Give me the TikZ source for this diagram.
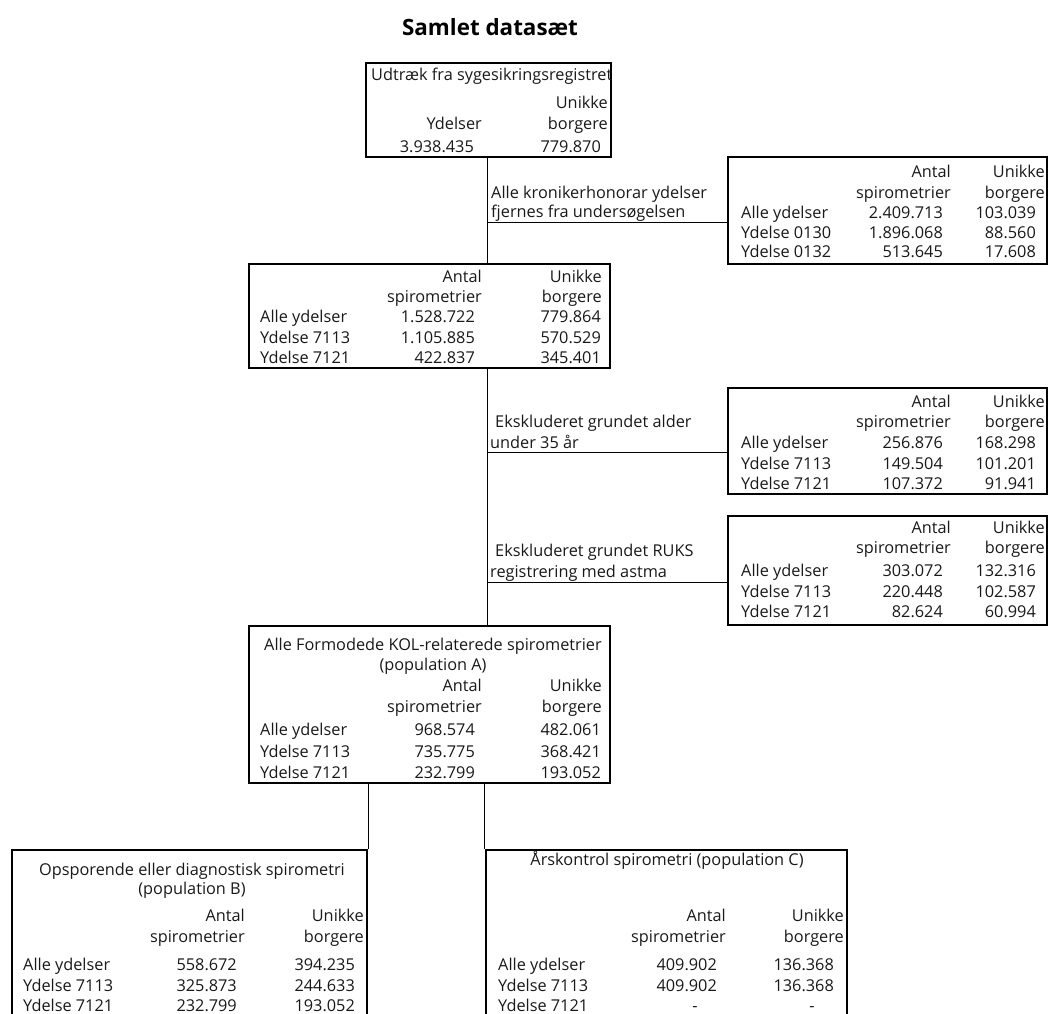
\documentclass[tikz,border=0pt]{standalone}
\usepackage{fontspec}
\setmainfont{Open Sans}
\usetikzlibrary{calc}
\newcommand\fsz{\fontsize{16.3}{19}\selectfont}
\begin{document}
\begin{tikzpicture}[x=1pt,y=-1pt,
  box/.style={draw=black,line width=2.6pt,inner sep=0pt},
  conn/.style={draw=black,line width=1pt},
  lt/.style={anchor=base west,inner sep=0pt,font=\fsz,text=black!90},
  rt/.style={anchor=base east,inner sep=0pt,font=\fsz,text=black!90},
  ct/.style={anchor=base,inner sep=0pt,font=\fsz,text=black!90}]
\useasboundingbox (0,0) rectangle (1049,1014);
\clip (0,0) rectangle (1049,1014);
% title
\node[anchor=base,inner sep=0pt,font=\fontsize{22.4}{26}\selectfont\bfseries] (title) at (490,36) {Samlet datasæt};
% boxes
\newcommand\mkbox[5]{\node[box,minimum width={#4-#2},minimum height={#5-#3}] (#1) at ({(#2+#4)/2},{(#3+#5)/2}) {};}
% junction coordinates
\coordinate (jx) at (487,0);
\coordinate (h1) at (487,222);
\coordinate (h2) at (487,452);
\coordinate (h3) at (487,582);
\mkbox{b1}{366}{63}{611}{157}
\mkbox{r1}{728}{157}{1047}{264}
\mkbox{b2}{249}{264}{610}{368}
\mkbox{r2}{728}{388}{1047}{494}
\mkbox{r3}{728}{516}{1047}{625}
\mkbox{bA}{249}{626}{610}{783}
\mkbox{bB}{12}{850}{367}{1040}
\mkbox{bC}{486}{850}{847}{1040}
% connectors
\draw[conn] (b1.south -| jx) -- (b2.north -| jx);
\draw[conn] (h1) -- (h1 -| r1.west);
\draw[conn] (b2.south -| jx) -- (bA.north -| jx);
\draw[conn] (h2) -- (h2 -| r2.west);
\draw[conn] (h3) -- (h3 -| r3.west);
\draw[conn] (bA.south -| bB.east) -- (bB.north east);
\draw[conn] (bA.south -| bC.west) -- (bC.north west);
% connector labels
\node[lt] (l1a) at (491,198) {Alle kronikerhonorar ydelser};
\node[lt] (l1b) at (491,217) {fjernes fra undersøgelsen};
\node[lt] (l2a) at (495,427) {Ekskluderet grundet alder};
\node[lt] (l2b) at (490,448) {under 35 år};
\node[lt] (l3a) at (495,556) {Ekskluderet grundet RUKS};
\node[lt] (l3b) at (490,577) {registrering med astma};
% box 1
\node[lt] (b1t) at (371,81) {Udtræk fra sygesikringsregistret};
\node[rt] (b1h2) at (608,109) {Unikke};
\node[rt] (b1h1) at (482,130) {Ydelser};
\node[rt] (b1h3) at (608,130) {borgere};
\node[rt] (b1n1) at (474,152) {3.938.435};
\node[rt] (b1n2) at (601,152) {779.870};
% box r1
\node[rt] (r1h1) at (951,177) {Antal};
\node[rt] (r1h2) at (1045,177) {Unikke};
\node[rt] (r1h3) at (951,198) {spirometrier};
\node[rt] (r1h4) at (1045,198) {borgere};
\foreach \lab/\a/\b/\y [count=\i] in {Alle ydelser/2.409.713/103.039/218, Ydelse 0130/1.896.068/88.560/238, Ydelse 0132/513.645/17.608/257}{
  \node[lt] (r1l\i) at (741,\y) {\lab};
  \node[rt] (r1a\i) at (943,\y) {\a};
  \node[rt] (r1b\i) at (1036,\y) {\b};
}
% box 2
\node[rt] (b2h1) at (482,282) {Antal};
\node[rt] (b2h2) at (602,282) {Unikke};
\node[rt] (b2h3) at (482,302) {spirometrier};
\node[rt] (b2h4) at (602,302) {borgere};
\foreach \lab/\a/\b/\y [count=\i] in {Alle ydelser/1.528.722/779.864/322, Ydelse 7113/1.105.885/570.529/343, Ydelse 7121/422.837/345.401/363}{
  \node[lt] (b2l\i) at (260,\y) {\lab};
  \node[rt] (b2a\i) at (475,\y) {\a};
  \node[rt] (b2b\i) at (601,\y) {\b};
}
% box r2
\node[rt] (r2h1) at (951,407) {Antal};
\node[rt] (r2h2) at (1045,407) {Unikke};
\node[rt] (r2h3) at (951,427) {spirometrier};
\node[rt] (r2h4) at (1045,427) {borgere};
\foreach \lab/\a/\b/\y [count=\i] in {Alle ydelser/256.876/168.298/448, Ydelse 7113/149.504/101.201/469, Ydelse 7121/107.372/91.941/489}{
  \node[lt] (r2l\i) at (741,\y) {\lab};
  \node[rt] (r2a\i) at (943,\y) {\a};
  \node[rt] (r2b\i) at (1036,\y) {\b};
}
% box r3
\node[rt] (r3h1) at (951,533) {Antal};
\node[rt] (r3h2) at (1045,533) {Unikke};
\node[rt] (r3h3) at (951,553) {spirometrier};
\node[rt] (r3h4) at (1045,553) {borgere};
\foreach \lab/\a/\b/\y [count=\i] in {Alle ydelser/303.072/132.316/576, Ydelse 7113/220.448/102.587/597, Ydelse 7121/82.624/60.994/617}{
  \node[lt] (r3l\i) at (741,\y) {\lab};
  \node[rt] (r3a\i) at (943,\y) {\a};
  \node[rt] (r3b\i) at (1036,\y) {\b};
}
% box A
\node[ct] (bAt1) at (433,650) {Alle Formodede KOL-relaterede spirometrier};
\node[ct] (bAt2) at (433,670) {(population A)};
\node[rt] (bAh1) at (482,691) {Antal};
\node[rt] (bAh2) at (602,691) {Unikke};
\node[rt] (bAh3) at (482,712) {spirometrier};
\node[rt] (bAh4) at (602,712) {borgere};
\foreach \lab/\a/\b/\y [count=\i] in {Alle ydelser/968.574/482.061/735, Ydelse 7113/735.775/368.421/757, Ydelse 7121/232.799/193.052/778}{
  \node[lt] (bAl\i) at (260,\y) {\lab};
  \node[rt] (bAa\i) at (475,\y) {\a};
  \node[rt] (bAb\i) at (601,\y) {\b};
}
% box B
\node[ct] (bBt1) at (192,875) {Opsporende eller diagnostisk spirometri};
\node[ct] (bBt2) at (192,894) {(population B)};
\node[rt] (bBh1) at (245,921) {Antal};
\node[rt] (bBh2) at (364,921) {Unikke};
\node[rt] (bBh3) at (245,942) {spirometrier};
\node[rt] (bBh4) at (364,942) {borgere};
\foreach \lab/\a/\b/\y [count=\i] in {Alle ydelser/558.672/394.235/970, Ydelse 7113/325.873/244.633/991, Ydelse 7121/232.799/193.052/1011}{
  \node[lt] (bBl\i) at (23,\y) {\lab};
  \node[rt] (bBa\i) at (237,\y) {\a};
  \node[rt] (bBb\i) at (355,\y) {\b};
}
% box C
\node[ct] (bCt1) at (667,865) {Årskontrol spirometri (population C)};
\node[rt] (bCh1) at (726,921) {Antal};
\node[rt] (bCh2) at (844,921) {Unikke};
\node[rt] (bCh3) at (726,942) {spirometrier};
\node[rt] (bCh4) at (844,942) {borgere};
\foreach \lab/\a/\b/\y [count=\i] in {Alle ydelser/409.902/136.368/970, Ydelse 7113/409.902/136.368/991}{
  \node[lt] (bCl\i) at (498,\y) {\lab};
  \node[rt] (bCa\i) at (717,\y) {\a};
  \node[rt] (bCb\i) at (834,\y) {\b};
}
\node[lt] (bCl3) at (498,1011) {Ydelse 7121};
\node[ct] (bCa3) at (695,1011) {-};
\node[ct] (bCb3) at (812,1011) {-};
\end{tikzpicture}
\end{document}
